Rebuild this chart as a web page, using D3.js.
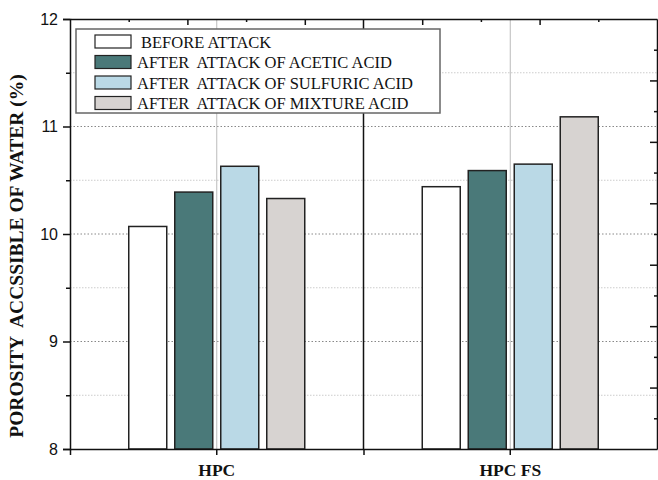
<!DOCTYPE html>
<head>
  <meta charset="utf-8">
  <script src='https://d3js.org/d3.v7.min.js'></script>
  <style>
    body { margin: 0; background: #fff; }
    .tick-label { font: 16px Arial, "Liberation Sans", sans-serif; fill: #111; }
    .y-title { font: bold 19.5px "Times New Roman", "Liberation Serif", serif; fill: #111; }
    .legend-text { font: 16.5px "Times New Roman", "Liberation Serif", serif; fill: #111; }
    .axis path, .axis line { stroke: #111; stroke-width: 1.5px; }
  </style>
</head>
<body>
<script>
var categories = ['HPC', 'HPC FS'];
var seriesNames = ['BEFORE ATTACK', 'AFTER  ATTACK OF ACETIC ACID',
                   'AFTER  ATTACK OF SULFURIC ACID', 'AFTER  ATTACK OF MIXTURE ACID'];
var seriesColors = ['#ffffff', '#4a7979', '#bad9e6', '#d7d3d1'];
var beforeAttack = [10.07, 10.44];
var aceticAcid   = [10.39, 10.59];
var sulfuricAcid = [10.63, 10.65];
var mixtureAcid  = [10.33, 11.09];
var yMajorTicks = [8, 9, 10, 11, 12];
var yMinorTicks = [8.5, 9.5, 10.5, 11.5];

var seriesValues = [beforeAttack, aceticAcid, sulfuricAcid, mixtureAcid];

var width = 658, height = 480;
// note: "top" is reserved on window, so use plot* names
var plotLeft = 70, plotRight = 657, plotTop = 19, plotBottom = 449;

var svg = d3.select('body').append('svg')
  .attr('width', width)
  .attr('height', height);

var y = d3.scaleLinear().domain([8, 12]).range([plotBottom, plotTop]);
var x0 = d3.scaleBand().domain(categories).range([plotLeft, plotRight]);
var groupWidth = 176;
var x1 = d3.scaleBand().domain(d3.range(seriesNames.length))
  .range([0, groupWidth]).paddingInner(8 / 46);

// horizontal grid
svg.selectAll('.grid-major')
  .data(yMajorTicks.filter(function(d) { return d > 8 && d < 12; }))
  .enter().append('line')
  .attr('x1', plotLeft).attr('x2', plotRight)
  .attr('y1', d => y(d)).attr('y2', d => y(d))
  .style('stroke', '#888').style('stroke-width', 1)
  .style('stroke-dasharray', '1.5,2');

svg.selectAll('.grid-minor')
  .data(yMinorTicks)
  .enter().append('line')
  .attr('x1', plotLeft).attr('x2', plotRight)
  .attr('y1', d => y(d)).attr('y2', d => y(d))
  .style('stroke', '#ccc').style('stroke-width', 1)
  .style('stroke-dasharray', '1.5,1.5');

// vertical grid at category centers
svg.selectAll('.vgrid')
  .data(categories)
  .enter().append('line')
  .attr('x1', d => x0(d) + x0.bandwidth() / 2)
  .attr('x2', d => x0(d) + x0.bandwidth() / 2)
  .attr('y1', plotTop).attr('y2', plotBottom)
  .style('stroke', '#bbb').style('stroke-width', 1);

// bars
var groups = svg.selectAll('.group')
  .data(categories)
  .enter().append('g')
  .attr('transform', d => 'translate(' + (x0(d) + (x0.bandwidth() - groupWidth) / 2) + ',0)');

groups.selectAll('rect')
  .data(function(c, ci) { return seriesValues.map(function(s, si) { return {s: si, v: s[ci]}; }); })
  .enter().append('rect')
  .attr('x', d => x1(d.s))
  .attr('width', x1.bandwidth())
  .attr('y', d => y(d.v))
  .attr('height', d => plotBottom - y(d.v))
  .style('fill', d => seriesColors[d.s])
  .style('stroke', '#222')
  .style('stroke-width', 1.5);

// divider between categories
svg.append('line')
  .attr('x1', x0(categories[1])).attr('x2', x0(categories[1]))
  .attr('y1', plotTop).attr('y2', plotBottom)
  .style('stroke', '#111').style('stroke-width', 1.5);

// left axis
var yAxis = svg.append('g').attr('class', 'axis')
  .attr('transform', 'translate(' + plotLeft + ',0)')
  .call(d3.axisLeft(y).tickValues(yMajorTicks).tickSize(7).tickPadding(5).tickFormat(d3.format('d')));
yAxis.selectAll('text').attr('class', 'tick-label').style('font-size', '16px')
  .style('font-family', 'Arial, "Liberation Sans", sans-serif').attr('fill', '#111');
svg.append('g').attr('class', 'axis')
  .attr('transform', 'translate(' + plotLeft + ',0)')
  .call(d3.axisLeft(y).tickValues(yMinorTicks).tickSize(4).tickFormat(''))
  .select('.domain').remove();

// right axis (no labels)
var yRight = d3.scaleLinear().domain([0, 14]).range([plotBottom, plotTop]);
svg.append('g').attr('class', 'axis')
  .attr('transform', 'translate(' + plotRight + ',0)')
  .call(d3.axisLeft(yRight).tickValues(d3.range(2, 14, 2)).tickSize(7).tickSizeOuter(0).tickFormat(''));
svg.append('g').attr('class', 'axis')
  .attr('transform', 'translate(' + plotRight + ',0)')
  .call(d3.axisLeft(yRight).tickValues(d3.range(1, 14, 2)).tickSize(3).tickFormat(''))
  .select('.domain').remove();

// top axis (no labels)
var xTop = d3.scaleLinear().domain([0, 10]).range([plotLeft, plotRight]);
svg.append('g').attr('class', 'axis')
  .attr('transform', 'translate(0,' + plotTop + ')')
  .call(d3.axisBottom(xTop).tickValues(d3.range(2, 10, 2)).tickSize(6).tickSizeOuter(0).tickFormat(''));
svg.append('g').attr('class', 'axis')
  .attr('transform', 'translate(0,' + plotTop + ')')
  .call(d3.axisBottom(xTop).tickValues([1, 3, 7, 9]).tickSize(3).tickFormat(''))
  .select('.domain').remove();

// bottom axis
var xAxis = svg.append('g').attr('class', 'axis')
  .attr('transform', 'translate(0,' + plotBottom + ')')
  .call(d3.axisBottom(x0).tickSize(6).tickSizeOuter(0).tickPadding(9));
xAxis.selectAll('text')
  .style('font', 'bold 17.5px "Times New Roman", "Liberation Serif", serif').attr('fill', '#111');
svg.append('g').attr('class', 'axis')
  .attr('transform', 'translate(0,' + plotBottom + ')')
  .call(d3.axisBottom(xTop).tickValues([0, 5]).tickSize(6).tickFormat(''))
  .select('.domain').remove();

// y title
svg.append('text')
  .attr('class', 'y-title')
  .attr('transform', 'translate(23,' + ((plotTop + plotBottom) / 2 + 22) + ') rotate(-90)')
  .attr('text-anchor', 'middle')
  .style('white-space', 'pre')
  .text('POROSITY  ACCSSIBLE OF WATER (%)');

// legend
var legend = svg.append('g').attr('transform', 'translate(76,29)');
legend.append('rect')
  .attr('width', 364).attr('height', 84)
  .style('fill', '#fff').style('stroke', '#666').style('stroke-width', 1.5);
var items = legend.selectAll('.item')
  .data(seriesNames)
  .enter().append('g')
  .attr('transform', (d, i) => 'translate(19,' + (6 + i * 20.5) + ')');
items.append('rect')
  .attr('width', 36).attr('height', 13)
  .style('fill', (d, i) => seriesColors[i])
  .style('stroke', '#222').style('stroke-width', 1.2);
items.append('text')
  .attr('class', 'legend-text')
  .attr('x', (d, i) => i === 0 ? 46 : 42)
  .attr('y', 12.5)
  .style('white-space', 'pre')
  .text(d => d);
</script>
</body>
